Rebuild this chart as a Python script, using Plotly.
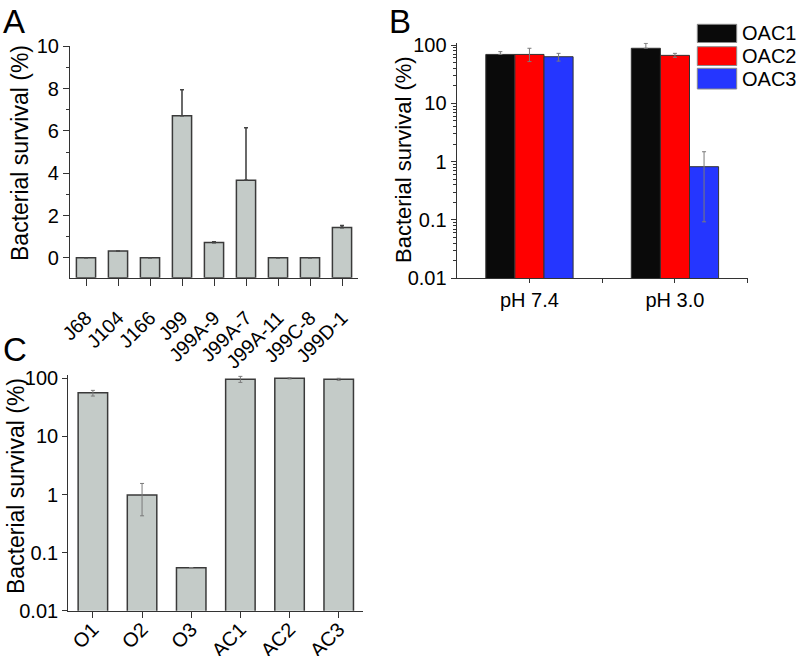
import plotly.graph_objects as go

# ---------------- data ----------------
a_cats = ["J68", "J104", "J166", "J99", "J99A-9", "J99A-7", "J99A-11", "J99C-8", "J99D-1"]
a_vals = [0.0, 0.32, 0.0, 6.72, 0.72, 3.67, 0.0, 0.0, 1.43]
a_err = [0.0, 0.0, 0.0, 1.23, 0.04, 2.48, 0.0, 0.0, 0.10]

b_groups = ["pH 7.4", "pH 3.0"]
b_series = ["OAC1", "OAC2", "OAC3"]
b_vals = {"OAC1": [69, 88], "OAC2": [69, 66.5], "OAC3": [63, 0.82]}
b_err_up = {"OAC1": [8, 19], "OAC2": [19, 5.5], "OAC3": [9, 0.66]}
b_err_dn = {"OAC1": [0, 0], "OAC2": [17, 5], "OAC3": [10, 0.727]}
b_colors = {"OAC1": "#0a0a0a", "OAC2": "#ff0000", "OAC3": "#2536ff"}

c_cats = ["O1", "O2", "O3", "AC1", "AC2", "AC3"]
c_vals = [56.5, 0.98, 0.055, 96, 100, 96]
c_err_up = [5.5, 0.57, 0.0, 12, 2.5, 4]
c_err_dn = [7, 0.55, 0.0, 11, 2.5, 3.5]

y_title = "Bacterial survival (%)"
A_YMIN = -0.94

W, H = 796, 656
FONT = "Liberation Sans, Arial, sans-serif"
BAR_GRAY = "#c4cbc8"
EDGE = "#3a3a3a"
AX = "#333333"


def px(x):
    return x / W


def py(y):
    return 1 - y / H


fig = go.Figure()

# ---------------- panel A ----------------
fig.add_trace(go.Bar(
    x=a_cats, y=[v - A_YMIN for v in a_vals], base=A_YMIN,
    marker=dict(color=BAR_GRAY, line=dict(color=EDGE, width=1.5)),
    xaxis="x", yaxis="y",
))
fig.add_trace(go.Scatter(
    x=a_cats, y=a_vals, mode="markers", marker=dict(size=1, opacity=0),
    error_y=dict(type="data", symmetric=False, array=a_err, arrayminus=[0] * len(a_err),
                 color="#444444", thickness=1.6, width=2),
    xaxis="x", yaxis="y", hoverinfo="skip",
))

# ---------------- panel B ----------------
for s in b_series:
    fig.add_trace(go.Bar(
        name=s, x=[0, 1], y=b_vals[s],
        marker=dict(color=b_colors[s], line=dict(color="#333333", width=1)),
        error_y=dict(type="data", symmetric=False, array=b_err_up[s], arrayminus=b_err_dn[s],
                     color="#7a7a7a", thickness=1, width=2),
        xaxis="x2", yaxis="y2",
    ))

# ---------------- panel C ----------------
fig.add_trace(go.Bar(
    x=c_cats, y=c_vals,
    marker=dict(color=BAR_GRAY, line=dict(color=EDGE, width=1.5)),
    error_y=dict(type="data", symmetric=False, array=c_err_up, arrayminus=c_err_dn,
                 color="#7a7a7a", thickness=1, width=2),
    xaxis="x3", yaxis="y3",
))

axis_common = dict(showline=True, linecolor=AX, linewidth=1.2, ticks="outside",
                   tickcolor=AX, showgrid=False, zeroline=False, automargin=False,
                   tickfont=dict(size=20, color="black", family=FONT))

log_minor = [m * 10 ** e for e in range(-2, 2) for m in range(2, 10)]

fig.update_layout(
    width=W, height=H, margin=dict(l=0, r=0, t=0, b=0, autoexpand=False),
    paper_bgcolor="white", plot_bgcolor="white",
    showlegend=False, barmode="group", bargap=0.4, bargroupgap=0,
    font=dict(family=FONT, color="black"),
    xaxis=dict(domain=[px(70), px(358)], anchor="y", range=[-0.5, 8.5], type="category",
               tickangle=-45, ticklen=7, ticklabelstandoff=13,
               **{**axis_common, "tickfont": dict(size=19.5, color="black", family=FONT)}),
    yaxis=dict(domain=[py(277.7), py(45.7)], anchor="x", range=[A_YMIN, 10.03],
               tickvals=[0, 2, 4, 6, 8, 10], ticklen=6,
               minor=dict(ticks="outside", ticklen=3, tickvals=[1, 3, 5, 7, 9], tickcolor=AX),
               **axis_common),
    xaxis2=dict(domain=[px(456.7), px(747.7)], anchor="y2", range=[-0.5, 1.5],
                tickvals=[0, 1], ticktext=b_groups, ticklen=4,
                minor=dict(ticks="outside", ticklen=4, tickvals=[0.5, 1.5], tickcolor=AX),
                **axis_common),
    yaxis2=dict(domain=[py(278.3), py(42.7)], anchor="x2", type="log", range=[-2, 2.04],
                tickvals=[0.01, 0.1, 1, 10, 100], ticktext=["0.01", "0.1", "1", "10", "100"],
                ticklen=5,
                minor=dict(ticks="outside", ticklen=2.5, tickvals=log_minor, tickcolor=AX),
                **axis_common),
    xaxis3=dict(domain=[px(68.3), px(363.3)], anchor="y3", range=[-0.5, 5.5], type="category",
                tickangle=-45, ticklen=6, ticklabelstandoff=-8, **axis_common),
    yaxis3=dict(domain=[py(610.7), py(375)], anchor="x3", type="log", range=[-2, 2.057],
                tickvals=[0.01, 0.1, 1, 10, 100], ticktext=["0.01", "0.1", "1", "10", "100"],
                ticklen=5,
                **axis_common),
)

# y-axis titles
for x, y, size in [(20, 153, 23), (403, 160, 22), (16, 486, 23)]:
    fig.add_annotation(text=y_title, x=px(x), y=py(y), xref="paper", yref="paper",
                       xanchor="center", yanchor="middle", textangle=-90, showarrow=False,
                       font=dict(size=size, color="black", family=FONT))

# panel letters
for letter, x, y in [("A", 1, 1), ("B", 387, 1), ("C", 1, 329)]:
    fig.add_annotation(text=letter, x=px(x), y=py(y), xref="paper", yref="paper",
                       xanchor="left", yanchor="top", showarrow=False,
                       font=dict(size=33, color="black", family=FONT))

# legend for panel B (manual, large swatches)
leg_rows = [(24.3, 42.5), (46.7, 65.5), (68.3, 89)]
for s, (y0, y1) in zip(b_series, leg_rows):
    fig.add_shape(type="rect", xref="paper", yref="paper",
                  x0=px(697.3), x1=px(736.7), y0=py(y1), y1=py(y0),
                  fillcolor=b_colors[s], line=dict(color="#8a8a8a", width=1))
    fig.add_annotation(text=s, x=px(740), y=py((y0 + y1) / 2), xref="paper", yref="paper",
                       xanchor="left", yanchor="middle", showarrow=False,
                       font=dict(size=20, color="black", family=FONT))

fig.write_html("out.html", config={"displayModeBar": False},
               post_script="document.body.style.margin='0';document.body.style.overflow='hidden';")
